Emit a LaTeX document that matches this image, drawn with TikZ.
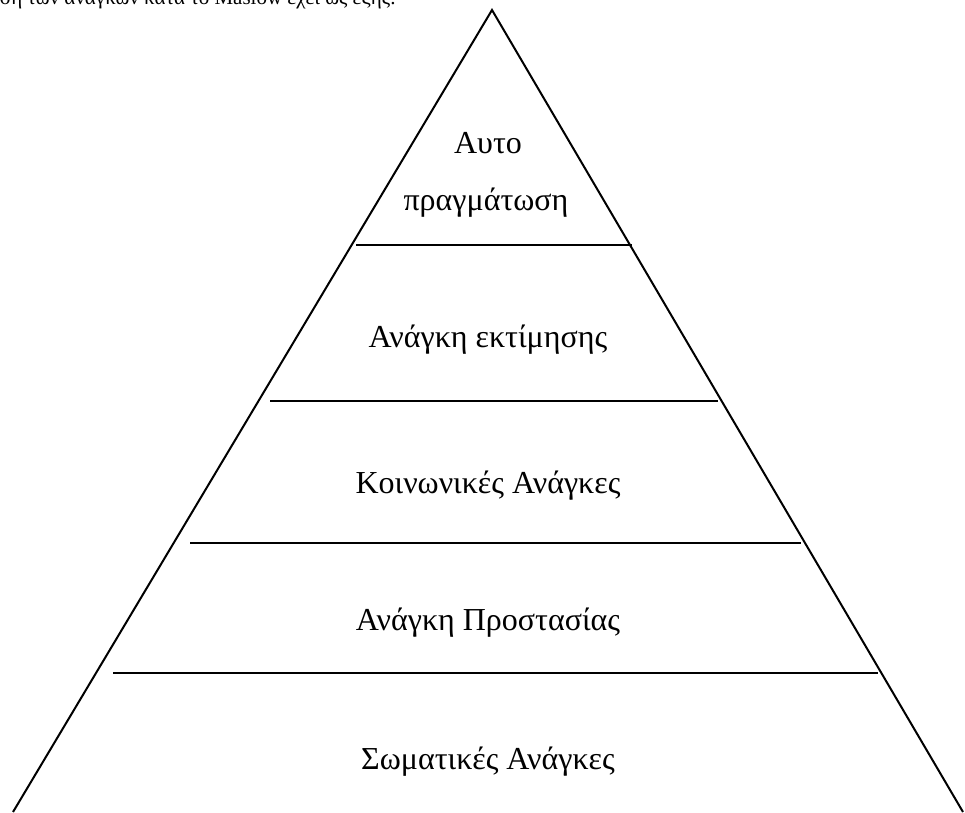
\documentclass[tikz,border=0pt]{standalone}
\usepackage{fontspec}
\setmainfont{Liberation Serif}
\begin{document}
\begin{tikzpicture}[x=1pt,y=-1pt,line width=2pt,
    level/.style={font=\fontsize{32}{38}\selectfont,anchor=base,inner sep=0pt}]
          \useasboundingbox (0,0) rectangle (965,812);
          % heading line, cut by the page top
          \node[anchor=base east,inner sep=0pt,font=\fontsize{21}{25}\selectfont] (intro) at (397,4) {Η ιεράρχηση των αναγκών κατά το Maslow έχει ως εξής:};
          % pyramid
          \draw (13,812) -- (492,10) -- (963,812);
          \draw (356,245) -- (632,245);
          \draw (270,401) -- (718,401);
          \draw (190,543) -- (801,543);
          \draw (113,673) -- (878,673);
          % levels
          \node[level] (self1) at (488,153) {Αυτο};
          \node[level] (self2) at (486,210) {πραγμάτωση};
          \node[level] (esteem) at (488,347) {Ανάγκη εκτίμησης};
          \node[level] (social) at (488,493) {Κοινωνικές Ανάγκες};
          \node[level] (safety) at (488,630) {Ανάγκη Προστασίας};
          \node[level] (body) at (488,769) {Σωματικές Ανάγκες};
\end{tikzpicture}
\end{document}
